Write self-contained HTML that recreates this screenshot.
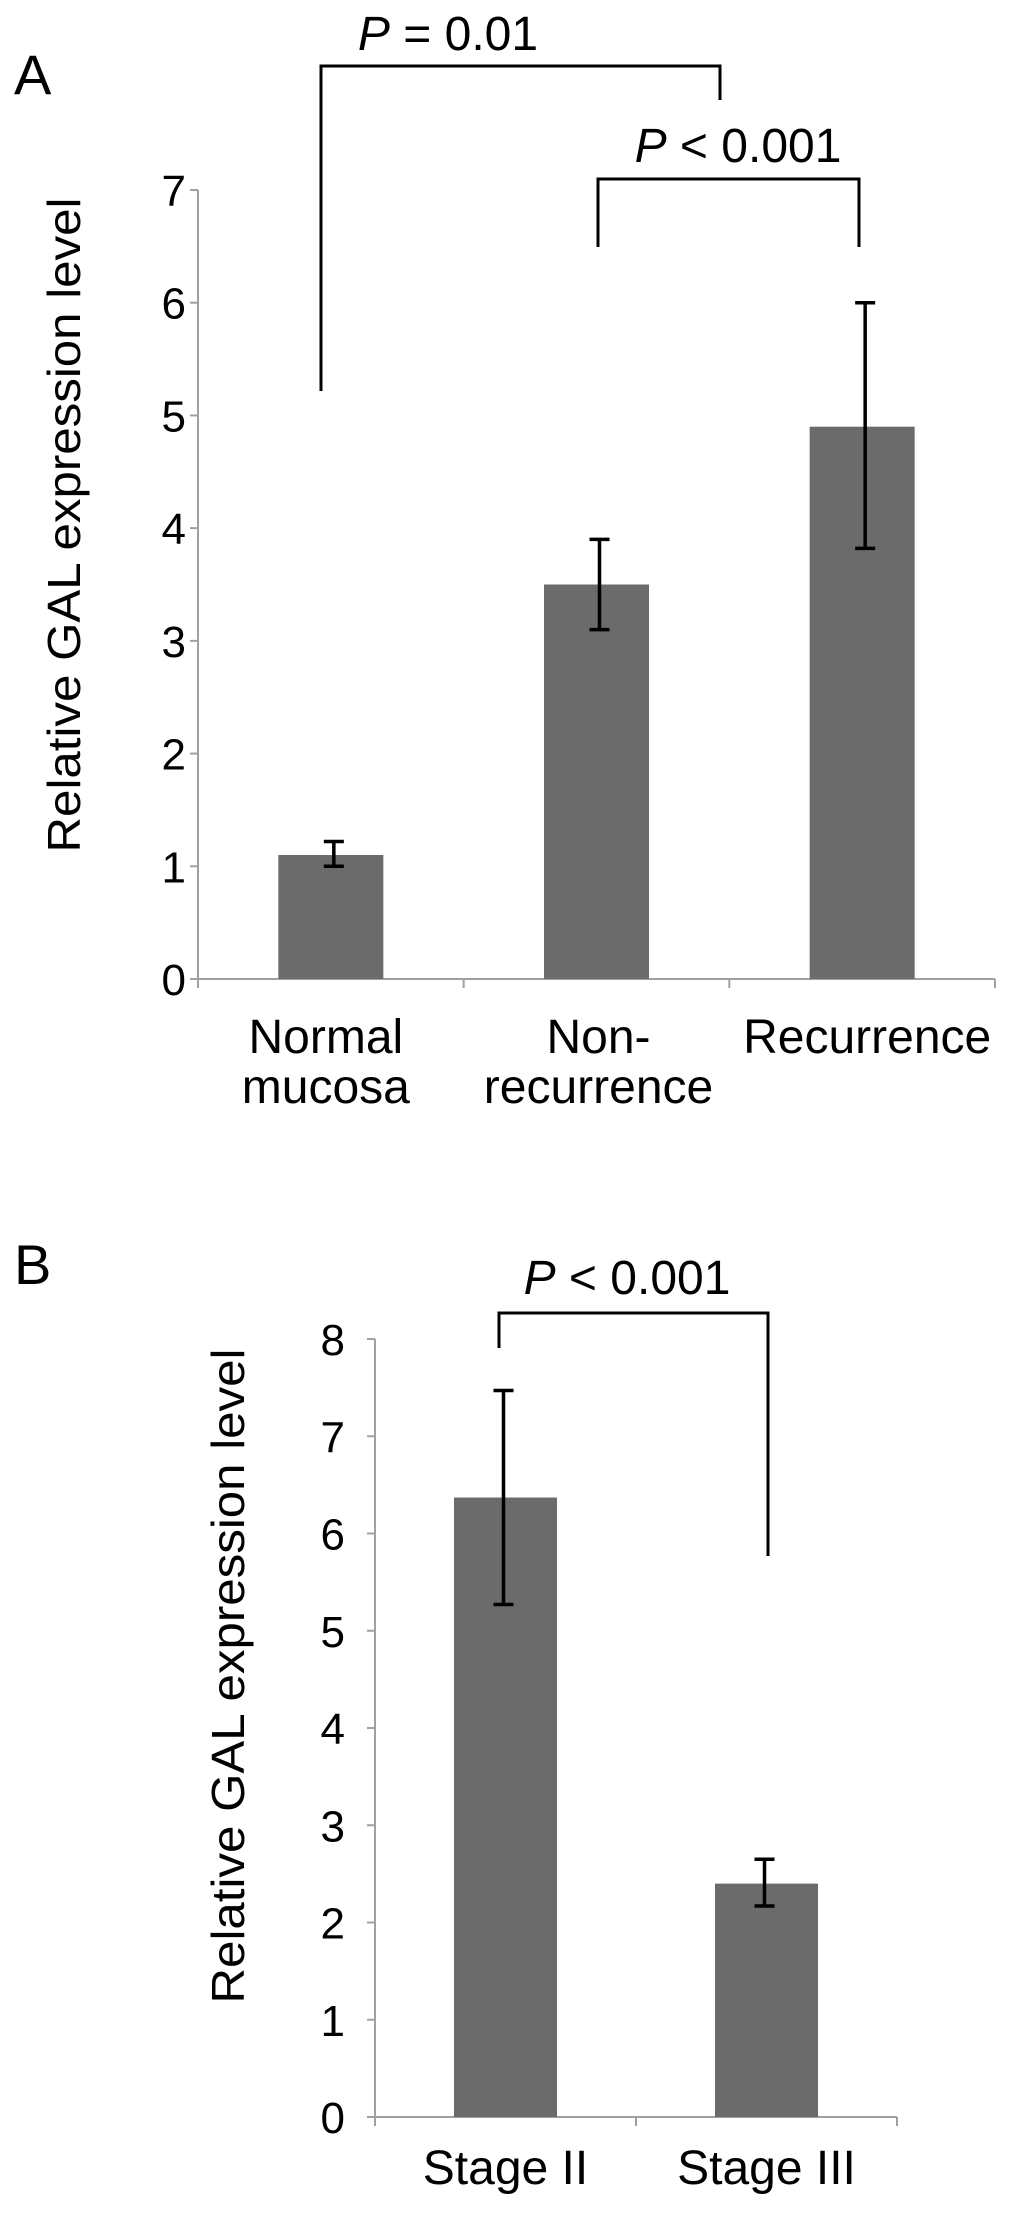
<!DOCTYPE html>
<html><head><meta charset="utf-8"><style>
html,body{margin:0;padding:0;background:#fff;}
svg{display:block;font-family:"Liberation Sans",Arial,sans-serif;}
</style></head><body>
<svg id="c" width="1017" height="2217" viewBox="0 0 1017 2217">
<text x="14" y="94" font-size="56">A</text>
<text x="14" y="1284" font-size="56">B</text>
<text transform="translate(80,525) rotate(-90)" text-anchor="middle" font-size="46" textLength="655" lengthAdjust="spacingAndGlyphs">Relative GAL expression level</text>
<text transform="translate(244,1676) rotate(-90)" text-anchor="middle" font-size="46" textLength="655" lengthAdjust="spacingAndGlyphs">Relative GAL expression level</text>
<g id="ga"></g><g id="gb"></g>
</svg>
<script>
const catsA = [["Normal","mucosa"],["Non-","recurrence"],["Recurrence"]];
const valsA = [1.1, 3.5, 4.9];
const errLoA = [1.0, 3.1, 3.82];
const errHiA = [1.22, 3.9, 6.0];
const ticksA = [0,1,2,3,4,5,6,7];
const catsB = [["Stage II"],["Stage III"]];
const valsB = [6.37, 2.4];
const errLoB = [5.27, 2.17];
const errHiB = [7.47, 2.65];
const ticksB = [0,1,2,3,4,5,6,7,8];
const NS="http://www.w3.org/2000/svg";
function mk(p,t,a){const e=document.createElementNS(NS,t);for(const k in a)e.setAttribute(k,a[k]);p.appendChild(e);return e;}
function chart(g,o){
  const y=v=>o.y0-(v-0)*(o.y0-o.yTop)/o.max;
  const cw=(o.x1-o.x0)/o.cats.length;
  const x=i=>o.x0+cw*(i+0.5);
  let l=mk(g,'line',{x1:o.x0,y1:o.y0,x2:o.x0,y2:o.yTop,stroke:'#a0a0a0','stroke-width':2});
  
  
  l=mk(g,'line',{x1:o.x0-6,y1:o.y0,x2:o.x1,y2:o.y0,stroke:'#a0a0a0','stroke-width':2});
  
  
  o.ticks.forEach(t=>{
    const tk=mk(g,'line',{x1:o.x0-8,y1:y(t),x2:o.x0,y2:y(t),stroke:'#a0a0a0','stroke-width':2});
    
    
    const tl=mk(g,'text',{x:o.x0-o.lg,y:y(t)+16,'text-anchor':'end','font-size':44});
    tl.textContent=t;
    
    
  });
  for(let i=0;i<=o.cats.length;i++){
    const tk=mk(g,'line',{x1:o.x0+cw*i,y1:o.y0,x2:o.x0+cw*i,y2:o.y0+9,stroke:'#a0a0a0','stroke-width':2});
    
    
  }
  o.cats.forEach((c,i)=>{
    const b=mk(g,'rect',{x:x(i)-o.bw/2,y:y(o.vals[i]),width:o.bw,height:o.y0-y(o.vals[i]),fill:'#6b6b6b'});
    
    
    const ex=x(i)+o.eo;
    const e=mk(g,'path',{d:`M${ex},${y(o.lo[i])}V${y(o.hi[i])}M${ex-10},${y(o.lo[i])}h20M${ex-10},${y(o.hi[i])}h20`,stroke:'#000','stroke-width':3.5,fill:'none'});
    
    
    c.forEach((s,j)=>{
      const t=mk(g,'text',{x:x(i)+(o.lx?o.lx[i]:0),y:o.ly+j*50,'text-anchor':'middle','font-size':48});
      t.textContent=s;
      
      
    });
  });
}
function bracket(g,x1,y1,x2,y2,yh,label,tx,ty){
  const p=mk(g,'path',{d:`M${x1},${y1}V${yh}H${x2}V${y2}`,stroke:'#000','stroke-width':3,fill:'none'});
  
  
  const t=mk(g,'text',{x:tx,y:ty,'text-anchor':'middle','font-size':48});
  t.innerHTML='<tspan font-style="italic">P</tspan> '+label;
  
  
}
const ga=document.getElementById('ga'),gb=document.getElementById('gb');
chart(ga,{x0:198,x1:995,y0:979,yTop:190,max:7,ticks:ticksA,cats:catsA,vals:valsA,lo:errLoA,hi:errHiA,bw:105,eo:3,ly:1053,lx:[-5,2,5],lg:12});
chart(gb,{x0:375,x1:897,y0:2117,yTop:1339,max:8,ticks:ticksB,cats:catsB,vals:valsB,lo:errLoB,hi:errHiB,bw:103,eo:-2,ly:2184,lg:30});
bracket(ga,321,391,720,100,66,'= 0.01',448,50);
bracket(ga,598,247,859,247,179,'&lt; 0.001',738,162);
bracket(gb,499,1348,768,1556,1313,'&lt; 0.001',627,1294);
</script>
</body></html>
